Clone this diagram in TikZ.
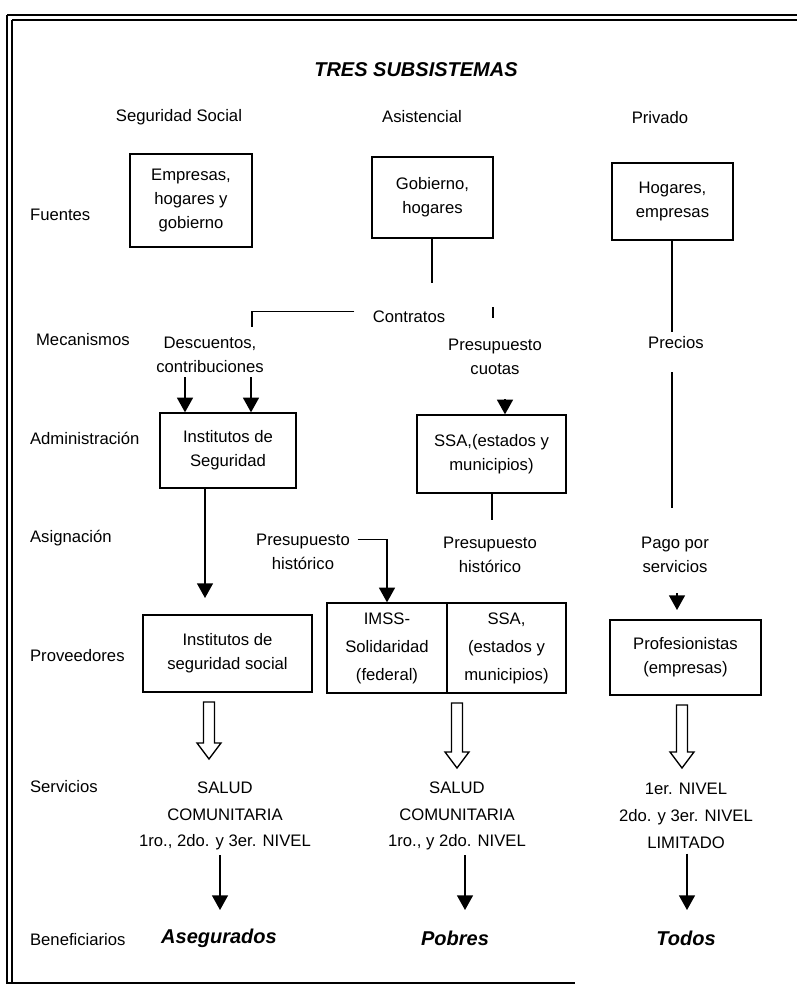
\documentclass[tikz,border=0pt]{standalone}
\usepackage{fontspec}
\setmainfont{Liberation Sans}
\usetikzlibrary{arrows.meta}

\begin{document}
\begin{tikzpicture}[x=0.75pt, y=-0.75pt, line width=1pt,
  every node/.style={font=\fontsize{12.5}{18}\selectfont, align=center},
  caja/.style={draw, inner sep=0pt},
  titulo/.style={font=\fontsize{15}{18}\selectfont\bfseries\itshape},
  arr/.style={-{Triangle[width=12pt,length=11pt]}}]
  \useasboundingbox (0,0) rectangle (797,986);
  \draw (7,15) -- (797,15);
  \draw (12,20) -- (797,20);
  \draw (7,15) -- (7,983) -- (575,983);
  \draw (12,20) -- (12,983);

  \node[titulo] (tit) at (416,70) {TRES SUBSISTEMAS};
  \node (hSS) at (179,117) {Seguridad Social};
  \node (hAs) at (422,117) {Asistencial};
  \node (hPr) at (660,118) {Privado};
  \foreach \x/\y/\t [count=\i] in {25/215/Fuentes, 31/340/Mecanismos, 25/438/Administración,
      25/538/Asignación, 25/656/Proveedores, 25/787/Servicios, 25/940/Beneficiarios}
    \node[anchor=west] (r\i) at (\x,\y) {\t};

  \node[caja, minimum width=91.5pt, minimum height=69.75pt] (fSS) at (191,200.5) {Empresas,\\hogares y\\gobierno};
  \node[caja, minimum width=90.75pt, minimum height=60.75pt] (fAs) at (432.5,197.5) {Gobierno,\\hogares};
  \node[caja, minimum width=90.75pt, minimum height=57.75pt] (fPr) at (672.5,201.5) {Hogares,\\empresas};
  \node[caja, minimum width=102pt, minimum height=56.25pt] (aSS) at (228,450.5) {Institutos de\\Seguridad};
  \node[caja, minimum width=111.75pt, minimum height=58.5pt] (aAs) at (491.5,454) {SSA,(estados y\\municipios)};
  \node[caja, minimum width=126.75pt, minimum height=57.75pt] (pSS) at (227.5,653.5) {Institutos de\\seguridad social};
  \node[caja, minimum width=90pt, minimum height=67.5pt, font=\fontsize{12.5}{21}\selectfont] (pIMSS) at (387,648) {IMSS-\\Solidaridad\\(federal)};
  \node[caja, minimum width=89.25pt, minimum height=67.5pt, font=\fontsize{12.5}{21}\selectfont] (pSSA) at (506.5,648) {SSA,\\(estados y\\municipios)};
  \node[caja, minimum width=113.25pt, minimum height=56.25pt] (pPr) at (685.5,657.5) {Profesionistas\\(empresas)};

  \node (contr) at (409,317) {Contratos};
  \node (desc) at (210,355) {Descuentos,\\contribuciones};
  \node (cuotas) at (495,356.5) {Presupuesto\\cuotas};
  \node (precios) at (676,343) {Precios};
  \node (hisL) at (303,551.5) {Presupuesto\\histórico};
  \node (hisR) at (490,554.5) {Presupuesto\\histórico};
  \node (pago) at (675,554.5) {Pago por\\servicios};

  \node[font=\fontsize{12.5}{20}\selectfont] (sSS) at (225,816) {SALUD\\COMUNITARIA\\1ro., 2do. y 3er. NIVEL};
  \node[font=\fontsize{12.5}{20}\selectfont] (sAs) at (457,816) {SALUD\\COMUNITARIA\\1ro., y 2do. NIVEL};
  \node[font=\fontsize{12.5}{20}\selectfont] (sPr) at (686,816) {1er. NIVEL\\2do. y 3er. NIVEL\\LIMITADO};
  \node[titulo] (bSS) at (219,938) {Asegurados};
  \node[titulo] (bAs) at (455,938) {Pobres};
  \node[titulo] (bPr) at (686,938) {Todos};

  \coordinate (gobFin) at (432,283);
  \coordinate (descTop) at (252,327);
  \coordinate (cuoTick) at (493,307);
  \coordinate (cuoTip) at (505,399);
  \coordinate (d1) at (185,377);
  \coordinate (d2) at (251,377);
  \coordinate (s1) at (205,598);
  \coordinate (h1) at (492,520);
  \coordinate (pr1) at (672,372);
  \coordinate (pr2) at (672,508);
  \coordinate (pg1) at (677,593);
  \coordinate (pg2) at (677,610);
  \coordinate (b1) at (220,910);
  \coordinate (b2) at (465,910);
  \coordinate (b3) at (687,910);

  \draw (fAs.south -| gobFin) -- (gobFin);
  \draw ([shift={(-10pt,4pt)}]contr.west) -| (descTop);
  \draw (cuoTick) -- ++(0,11);
  \draw[arr] (cuoTip) -- (cuoTip |- aAs.north);
  \draw[arr] (d1) -- (d1 |- aSS.north);
  \draw[arr] (d2) -- (d2 |- aSS.north);
  \draw[arr] (aSS.south -| s1) -- (s1);
  \draw (aAs.south -| h1) -- (h1);
  \draw[arr] ([shift={(2pt,9pt)}]hisL.east) -| (pIMSS.north);
  \draw (fPr.south -| pr1) -- (pr1 |- precios.north);
  \draw (pr1) -- (pr2);
  \draw[arr] (pg1) -- (pg2);

  \foreach \x/\ya/\yb in {209/702/759, 457/703/768, 682/705/768}
    \draw (\x-5.5,\ya) -- (\x+5.5,\ya) -- (\x+5.5,\yb-16) -- (\x+12,\yb-16) -- (\x,\yb)
      -- (\x-12,\yb-16) -- (\x-5.5,\yb-16) -- cycle;

  \draw[arr] (b1 |- sSS.south) -- (b1);
  \draw[arr] (b2 |- sAs.south) -- (b2);
  \draw[arr] (b3 |- sPr.south) -- (b3);
\end{tikzpicture}
\end{document}
